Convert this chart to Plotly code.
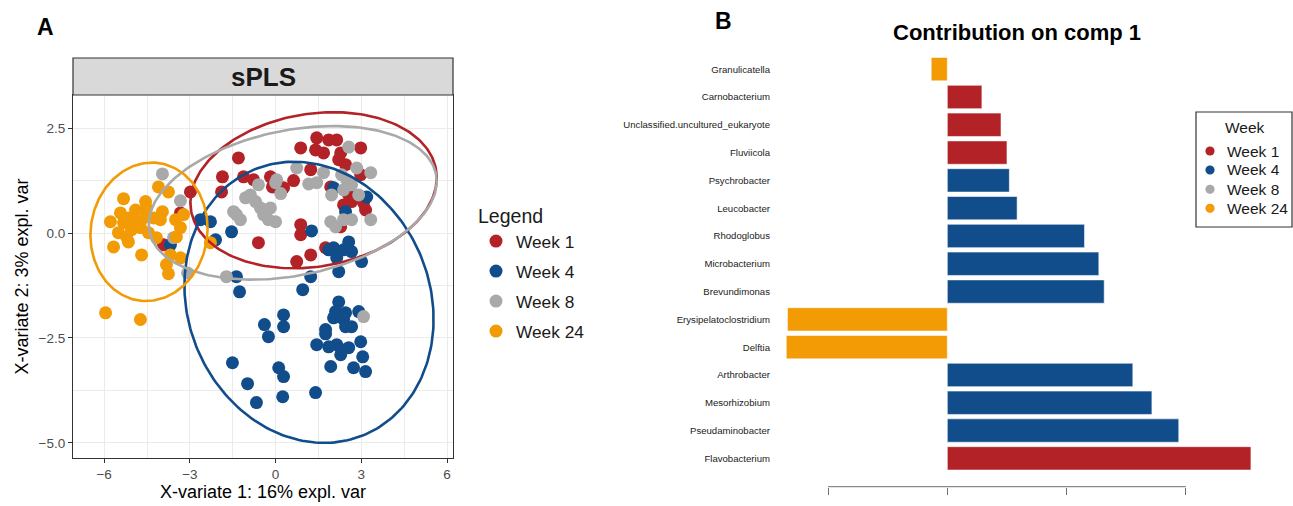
import numpy as np
import plotly.graph_objects as go

FONT = "Liberation Sans, Arial, Helvetica, sans-serif"
W, H = 1293, 506

weeks = ["Week 1", "Week 4", "Week 8", "Week 24"]
week_colors = ["#B22226", "#114D8A", "#A9A9A9", "#F29B05"]

# ---- sPLS sample scores (X-variate 1, X-variate 2) for each week ----
week1_x = [-1.30, -1.86, -1.89, -2.98, -0.77, -0.60, -3.33, -3.92, 1.44, 1.86, 2.14, 0.88, 1.40,
           1.68, 2.28, 2.98, 2.21, 2.45, 1.23, 0.63, -0.18, 0.28, 1.93, 2.98, 2.56, 2.66, 3.15,
           3.08, 2.38, 2.28, 0.88, 0.88, 1.75, 1.23, 0.74, -0.11, -1.12]
week1_y = [1.79, 1.34, 0.98, 0.98, 1.27, -0.23, 0.48, -0.28, 2.27, 2.22, 2.22, 2.03, 1.98,
           1.91, 1.91, 2.03, 1.75, 1.63, 1.51, 1.25, 1.34, 1.08, 1.10, 1.39, 0.91, 0.75, 0.55,
           0.72, 0.67, 0.15, 0.20, -0.04, -0.35, -0.52, -0.68, 1.10, 1.34]

week4_x = [-2.63, -2.28, -1.54, -2.10, -3.68, -1.37, -1.26, 2.03, 3.19, 2.45, 1.26, 2.03, 2.56,
           2.38, 2.66, 2.14, 3.01, 2.21, 1.23, 0.95, 0.28, 0.28, -0.39, -0.25, 2.21, 2.10, 2.45,
           2.91, 2.03, 2.38, 2.66, 2.45, 1.75, 1.75, 1.44, 1.86, 2.14, 2.31, 2.56, 2.28, 2.98,
           3.05, 2.73, 3.15, 1.93, 0.11, 0.28, 1.40, 0.25, -1.51, -0.98, -0.67, 1.86]
week4_y = [0.32, 0.27, 0.03, -0.16, -0.28, -1.04, -1.40, 1.08, 0.86, 0.51, 0.05, -0.35, -0.21,
           -0.40, -0.44, -0.59, -0.68, -0.92, -1.04, -1.35, -1.95, -2.23, -2.18, -2.47, -1.64,
           -1.87, -1.90, -1.87, -2.02, -2.06, -2.23, -2.23, -2.30, -2.40, -2.66, -2.71, -2.66,
           -2.78, -2.73, -2.90, -2.59, -2.95, -3.21, -3.30, -3.18, -3.21, -3.42, -3.80, -3.90,
           -3.09, -3.59, -4.04, -0.40]

week8_x = [-3.96, -3.33, -3.57, -1.72, -3.08, -1.37, -1.23, -1.05, -0.88, -0.70, -0.60, -0.53,
           -0.42, -1.47, 2.56, 0.74, 1.68, 1.44, 1.16, 0.04, 0.00, 0.18, -0.18, -0.25, 0.00,
           2.31, 2.49, 2.84, 3.33, 2.66, 2.38, 2.91, 1.96, 1.93, 2.38, 2.66, 3.33, 2.10, 3.08]
week8_y = [1.41, 0.77, -0.11, -1.04, -0.95, 0.44, 0.32, 0.84, 0.91, 0.75, 1.15, 0.60,
           0.44, 0.51, 2.05, 1.55, 1.44, 1.20, 1.17, 1.27, 1.20, 0.94, 0.60, 0.32, 0.27,
           1.39, 1.27, 1.55, 1.44, 1.15, 1.03, 0.91, 0.91, 0.27, 0.32, 0.32, 0.32, 0.15, -1.99]

week24_x = [-4.10, -3.75, -5.32, -4.55, -4.52, -4.90, -5.43, -5.78, -5.32, -4.97, -4.73, -4.55,
            -4.27, -4.03, -3.50, -3.22, -5.04, -4.73, -5.50, -5.22, -4.45, -4.17, -3.33, -3.47,
            -5.67, -5.15, -4.69, -3.82, -3.68, -3.33, -2.28, -3.75, -5.95, -4.73, -3.96, -5.15]
week24_y = [1.10, 0.98, 0.82, 0.75, 0.60, 0.55, 0.48, 0.27, 0.25, 0.32, 0.27, 0.39,
            0.36, 0.32, 0.32, 0.44, 0.08, 0.13, 0.01, -0.09, 0.01, -0.11, 0.13, -0.09,
            -0.33, -0.21, -0.52, -0.75, -0.52, -0.59, -0.23, -0.97, -1.90, -2.06, 0.51, 0.36]

scores_x = [week1_x, week4_x, week8_x, week24_x]
scores_y = [week1_y, week4_y, week8_y, week24_y]

# ---- 95% confidence ellipses: centre, half extent on each variate, correlation ----
ell_cx = [1.33, 1.17, 0.60, -4.43]
ell_cy = [1.02, -1.65, 0.72, 0.03]
ell_ex = [4.31, 4.36, 5.04, 2.05]
ell_ey = [1.86, 3.35, 1.83, 1.65]
ell_rho = [0.16, -0.12, 0.28, 0.05]

# ---- loadings on component 1 (top to bottom) and the week with max contribution ----
taxa = ["Granulicatella", "Carnobacterium", "Unclassified.uncultured_eukaryote", "Fluviicola",
        "Psychrobacter", "Leucobacter", "Rhodoglobus", "Microbacterium", "Brevundimonas",
        "Erysipelatoclostridium", "Delftia", "Arthrobacter", "Mesorhizobium",
        "Pseudaminobacter", "Flavobacterium"]
loadings = [-0.027, 0.058, 0.090, 0.100, 0.104, 0.117, 0.230, 0.254, 0.263,
            -0.268, -0.270, 0.311, 0.343, 0.388, 0.509]
contrib = ["Week 24", "Week 1", "Week 1", "Week 1", "Week 4", "Week 4", "Week 4", "Week 4",
           "Week 4", "Week 24", "Week 24", "Week 4", "Week 4", "Week 4", "Week 1"]
loading_ticks = [-0.2, 0.0, 0.2, 0.4]


def px_x(p):
    return p / W


def px_y(p):
    return (H - p) / H


fig = go.Figure()

# scatter of sample scores
for wk, col, xs, ys in zip(weeks, week_colors, scores_x, scores_y):
    fig.add_trace(go.Scatter(
        x=xs, y=ys, mode="markers", name=wk, legendgroup=wk,
        marker=dict(color=col, size=13, line=dict(width=0)),
        xaxis="x", yaxis="y"))

# confidence ellipses
t = np.linspace(0, 2 * np.pi, 240)
for i, col in enumerate(week_colors):
    d = np.arccos(ell_rho[i])
    ex = ell_cx[i] + ell_ex[i] * np.cos(t + d / 2)
    ey = ell_cy[i] + ell_ey[i] * np.cos(t - d / 2)
    fig.add_trace(go.Scatter(x=ex, y=ey, mode="lines", line=dict(color=col, width=2.6),
                             showlegend=False, hoverinfo="skip", xaxis="x", yaxis="y"))

# loading bars
color_of = dict(zip(weeks, week_colors))
fig.add_trace(go.Bar(
    x=loadings, y=taxa, orientation="h", showlegend=False,
    marker=dict(color=[color_of[c] for c in contrib],
                line=dict(color="rgba(255,255,255,0.55)", width=1)),
    xaxis="x2", yaxis="y2"))

sx0, sx1 = px_x(73), px_x(453)
sy0, sy1 = px_y(458), px_y(95)
strip_top = px_y(58)

shapes = [
    dict(type="rect", xref="paper", yref="paper", x0=sx0, x1=sx1, y0=sy1, y1=strip_top,
         fillcolor="#D9D9D9", line=dict(color="#333333", width=1.2), layer="above"),
    dict(type="line", xref="x2", yref="paper", x0=min(loading_ticks), x1=max(loading_ticks),
         y0=px_y(486.7), y1=px_y(486.7), line=dict(color="#6E6E6E", width=1)),
    # key box of the loading plot
    dict(type="rect", xref="paper", yref="paper", x0=px_x(1196), x1=px_x(1292),
         y0=px_y(227), y1=px_y(112), line=dict(color="#333333", width=1.2),
         fillcolor="white"),
]
annotations = [
    dict(text="<b>sPLS</b>", xref="paper", yref="paper", x=(sx0 + sx1) / 2,
         y=(sy1 + strip_top) / 2, showarrow=False, font=dict(size=26, color="#1A1A1A"),
         xanchor="center", yanchor="middle"),
    dict(text="<b>A</b>", xref="paper", yref="paper", x=px_x(45), y=px_y(27),
         showarrow=False, font=dict(size=23), xanchor="center", yanchor="middle"),
    dict(text="<b>B</b>", xref="paper", yref="paper", x=px_x(723), y=px_y(21),
         showarrow=False, font=dict(size=23), xanchor="center", yanchor="middle"),
    dict(text="<b>Contribution on comp 1</b>", xref="paper", yref="paper",
         x=px_x(1017), y=px_y(33), showarrow=False, font=dict(size=22),
         xanchor="center", yanchor="middle"),
    dict(text="Week", xref="paper", yref="paper", x=px_x(1245), y=px_y(127),
         showarrow=False, font=dict(size=15.5, color="#1A1A1A"),
         xanchor="center", yanchor="middle"),
]
key_rows = [151, 170, 189.3, 208.3]
for wk, col, ry in zip(weeks, week_colors, key_rows):
    shapes.append(dict(type="circle", xref="paper", yref="paper",
                       xsizemode="pixel", ysizemode="pixel",
                       xanchor=px_x(1210), yanchor=px_y(ry), x0=-4.6, x1=4.6, y0=-4.6, y1=4.6,
                       fillcolor=col, line=dict(width=0)))
    annotations.append(dict(text=wk, xref="paper", yref="paper", x=px_x(1225), y=px_y(ry),
                            showarrow=False, font=dict(size=15.5, color="#1A1A1A"),
                            xanchor="left", yanchor="middle"))

grid = "#EBEBEB"
fig.update_layout(
    width=W, height=H, margin=dict(l=0, r=0, t=0, b=0, autoexpand=False),
    paper_bgcolor="white", plot_bgcolor="white",
    font=dict(family=FONT, color="black"),
    bargap=0.16,
    xaxis=dict(domain=[sx0, sx1], range=[-7.09, 6.21], tick0=0, dtick=3,
               showgrid=True, gridcolor=grid, gridwidth=1.1, zeroline=False,
               minor=dict(tick0=0, dtick=1.5, showgrid=True, gridcolor=grid, gridwidth=0.6),
               showline=True, mirror=True, linecolor="#333333", linewidth=1.2,
               ticks="outside", ticklen=4, tickcolor="#333333", tickwidth=1,
               tickfont=dict(size=13.5, color="#4D4D4D"),
               title=dict(text="X-variate 1: 16% expl. var", font=dict(size=18), standoff=3),
               anchor="y"),
    yaxis=dict(domain=[sy0, sy1], range=[-5.36, 3.29], tick0=0, dtick=2.5, tickformat=".1f",
               showgrid=True, gridcolor=grid, gridwidth=1.1, zeroline=False,
               minor=dict(tick0=0, dtick=1.25, showgrid=True, gridcolor=grid, gridwidth=0.6),
               showline=True, mirror=True, linecolor="#333333", linewidth=1.2,
               ticks="outside", ticklen=4, tickcolor="#333333", tickwidth=1,
               tickfont=dict(size=13.5, color="#4D4D4D"),
               title=dict(text="X-variate 2: 3% expl. var", font=dict(size=18), standoff=5),
               anchor="x"),
    xaxis2=dict(domain=[px_x(780), px_x(1260)], range=[-0.2805, 0.5242],
                tickvals=loading_ticks, showticklabels=False, ticks="outside", ticklen=7,
                tickcolor="#6E6E6E", tickwidth=1, showgrid=False, zeroline=False,
                showline=False, anchor="y2"),
    yaxis2=dict(domain=[px_y(486.7), px_y(40)], type="category",
                categoryorder="array", categoryarray=taxa[::-1], range=[-1.02, 15.05],
                showgrid=False, zeroline=False, showline=False, ticks="",
                ticklabelstandoff=9, tickfont=dict(size=9.6, color="#222222"), anchor="x2"),
    legend=dict(x=px_x(476), y=px_y(198), xanchor="left", yanchor="top",
                font=dict(size=17.3, color="#1A1A1A"), tracegroupgap=4.5,
                title=dict(text="Legend", font=dict(size=19.5)), bgcolor="rgba(0,0,0,0)"),
    shapes=shapes,
    annotations=annotations,
)

fig.write_html("out.html")
